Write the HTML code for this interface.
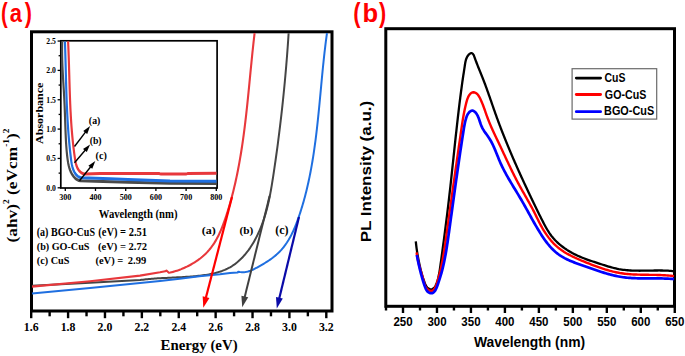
<!DOCTYPE html>
<html><head><meta charset="utf-8"><title>Figure</title>
<style>html,body{margin:0;padding:0;background:#fff;overflow:hidden;} svg{display:block;}</style>
</head><body>
<svg width="685" height="356" viewBox="0 0 685 356"><rect width="685" height="356" fill="#fff"/><g><rect width="685" height="356" fill="#fff"/><text transform="translate(0.99,21.73) scale(0.7269,1)" font-family='"Liberation Sans", sans-serif' font-weight="bold" font-size="27.786" fill="#ff0000" >(</text>
<text transform="translate(9.76,22.25) scale(0.8466,1)" font-family='"Liberation Sans", sans-serif' font-weight="bold" font-size="25.919" fill="#ff0000" >a</text>
<text transform="translate(24.78,21.73) scale(0.7779,1)" font-family='"Liberation Sans", sans-serif' font-weight="bold" font-size="27.786" fill="#ff0000" >)</text>
<text transform="translate(353.21,21.81) scale(0.7876,1)" font-family='"Liberation Sans", sans-serif' font-weight="bold" font-size="27.893" fill="#ff0000" >(</text>
<text transform="translate(362.51,21.94) scale(0.9792,1)" font-family='"Liberation Sans", sans-serif' font-weight="bold" font-size="26.145" fill="#ff0000" >b</text>
<text transform="translate(379.08,21.81) scale(0.7749,1)" font-family='"Liberation Sans", sans-serif' font-weight="bold" font-size="27.893" fill="#ff0000" >)</text>
<rect x="31.50" y="31.80" width="300.50" height="279.20" fill="none" stroke="#000" stroke-width="3"/>
<line x1="31.20" y1="311.00" x2="31.20" y2="318.20" stroke="#000" stroke-width="2.4" stroke-linecap="butt"/>
<line x1="49.64" y1="311.00" x2="49.64" y2="316.30" stroke="#000" stroke-width="2.4" stroke-linecap="butt"/>
<line x1="68.09" y1="311.00" x2="68.09" y2="318.20" stroke="#000" stroke-width="2.4" stroke-linecap="butt"/>
<line x1="86.53" y1="311.00" x2="86.53" y2="316.30" stroke="#000" stroke-width="2.4" stroke-linecap="butt"/>
<line x1="104.97" y1="311.00" x2="104.97" y2="318.20" stroke="#000" stroke-width="2.4" stroke-linecap="butt"/>
<line x1="123.42" y1="311.00" x2="123.42" y2="316.30" stroke="#000" stroke-width="2.4" stroke-linecap="butt"/>
<line x1="141.86" y1="311.00" x2="141.86" y2="318.20" stroke="#000" stroke-width="2.4" stroke-linecap="butt"/>
<line x1="160.31" y1="311.00" x2="160.31" y2="316.30" stroke="#000" stroke-width="2.4" stroke-linecap="butt"/>
<line x1="178.75" y1="311.00" x2="178.75" y2="318.20" stroke="#000" stroke-width="2.4" stroke-linecap="butt"/>
<line x1="197.19" y1="311.00" x2="197.19" y2="316.30" stroke="#000" stroke-width="2.4" stroke-linecap="butt"/>
<line x1="215.64" y1="311.00" x2="215.64" y2="318.20" stroke="#000" stroke-width="2.4" stroke-linecap="butt"/>
<line x1="234.08" y1="311.00" x2="234.08" y2="316.30" stroke="#000" stroke-width="2.4" stroke-linecap="butt"/>
<line x1="252.53" y1="311.00" x2="252.53" y2="318.20" stroke="#000" stroke-width="2.4" stroke-linecap="butt"/>
<line x1="270.97" y1="311.00" x2="270.97" y2="316.30" stroke="#000" stroke-width="2.4" stroke-linecap="butt"/>
<line x1="289.41" y1="311.00" x2="289.41" y2="318.20" stroke="#000" stroke-width="2.4" stroke-linecap="butt"/>
<line x1="307.86" y1="311.00" x2="307.86" y2="316.30" stroke="#000" stroke-width="2.4" stroke-linecap="butt"/>
<line x1="326.30" y1="311.00" x2="326.30" y2="318.20" stroke="#000" stroke-width="2.4" stroke-linecap="butt"/>
<text transform="translate(31.20,330.90) scale(1.0000,1)" text-anchor="middle" font-family='"Liberation Serif", serif' font-weight="bold" font-size="11.8" fill="#000" >1.6</text>
<text transform="translate(68.09,330.90) scale(1.0000,1)" text-anchor="middle" font-family='"Liberation Serif", serif' font-weight="bold" font-size="11.8" fill="#000" >1.8</text>
<text transform="translate(104.97,330.90) scale(1.0000,1)" text-anchor="middle" font-family='"Liberation Serif", serif' font-weight="bold" font-size="11.8" fill="#000" >2.0</text>
<text transform="translate(141.86,330.90) scale(1.0000,1)" text-anchor="middle" font-family='"Liberation Serif", serif' font-weight="bold" font-size="11.8" fill="#000" >2.2</text>
<text transform="translate(178.75,330.90) scale(1.0000,1)" text-anchor="middle" font-family='"Liberation Serif", serif' font-weight="bold" font-size="11.8" fill="#000" >2.4</text>
<text transform="translate(215.64,330.90) scale(1.0000,1)" text-anchor="middle" font-family='"Liberation Serif", serif' font-weight="bold" font-size="11.8" fill="#000" >2.6</text>
<text transform="translate(252.53,330.90) scale(1.0000,1)" text-anchor="middle" font-family='"Liberation Serif", serif' font-weight="bold" font-size="11.8" fill="#000" >2.8</text>
<text transform="translate(289.41,330.90) scale(1.0000,1)" text-anchor="middle" font-family='"Liberation Serif", serif' font-weight="bold" font-size="11.8" fill="#000" >3.0</text>
<text transform="translate(326.30,330.90) scale(1.0000,1)" text-anchor="middle" font-family='"Liberation Serif", serif' font-weight="bold" font-size="11.8" fill="#000" >3.2</text>
<text transform="translate(160.55,349.97) scale(0.9840,1)" font-family='"Liberation Serif", serif' font-weight="bold" font-size="15.089" fill="#000" >Energy (eV)</text>
<text transform="translate(17.4,242.5) rotate(-90) scale(1.205,1)" font-family='"Liberation Serif", serif' font-weight="bold" font-size="14.4" fill="#000">(ahv)<tspan font-size="7.8" dy="-8.6">2</tspan><tspan dy="8.6"> (eVcm</tspan><tspan font-size="7.8" dy="-8.6">-1</tspan><tspan dy="8.6">)</tspan><tspan font-size="7.8" dy="-8.6">2</tspan></text>
<rect x="60.80" y="40.80" width="156.30" height="147.20" fill="none" stroke="#000" stroke-width="1.7"/>
<line x1="60.80" y1="187.80" x2="57.60" y2="187.80" stroke="#000" stroke-width="1.3" stroke-linecap="butt"/>
<line x1="60.80" y1="173.12" x2="58.60" y2="173.12" stroke="#000" stroke-width="1.3" stroke-linecap="butt"/>
<line x1="60.80" y1="158.45" x2="57.60" y2="158.45" stroke="#000" stroke-width="1.3" stroke-linecap="butt"/>
<line x1="60.80" y1="143.78" x2="58.60" y2="143.78" stroke="#000" stroke-width="1.3" stroke-linecap="butt"/>
<line x1="60.80" y1="129.10" x2="57.60" y2="129.10" stroke="#000" stroke-width="1.3" stroke-linecap="butt"/>
<line x1="60.80" y1="114.43" x2="58.60" y2="114.43" stroke="#000" stroke-width="1.3" stroke-linecap="butt"/>
<line x1="60.80" y1="99.75" x2="57.60" y2="99.75" stroke="#000" stroke-width="1.3" stroke-linecap="butt"/>
<line x1="60.80" y1="85.08" x2="58.60" y2="85.08" stroke="#000" stroke-width="1.3" stroke-linecap="butt"/>
<line x1="60.80" y1="70.40" x2="57.60" y2="70.40" stroke="#000" stroke-width="1.3" stroke-linecap="butt"/>
<line x1="60.80" y1="55.72" x2="58.60" y2="55.72" stroke="#000" stroke-width="1.3" stroke-linecap="butt"/>
<line x1="60.80" y1="41.05" x2="57.60" y2="41.05" stroke="#000" stroke-width="1.3" stroke-linecap="butt"/>
<line x1="65.30" y1="188.00" x2="65.30" y2="191.00" stroke="#000" stroke-width="1.3" stroke-linecap="butt"/>
<line x1="95.50" y1="188.00" x2="95.50" y2="191.00" stroke="#000" stroke-width="1.3" stroke-linecap="butt"/>
<line x1="125.70" y1="188.00" x2="125.70" y2="191.00" stroke="#000" stroke-width="1.3" stroke-linecap="butt"/>
<line x1="155.90" y1="188.00" x2="155.90" y2="191.00" stroke="#000" stroke-width="1.3" stroke-linecap="butt"/>
<line x1="186.10" y1="188.00" x2="186.10" y2="191.00" stroke="#000" stroke-width="1.3" stroke-linecap="butt"/>
<line x1="216.30" y1="188.00" x2="216.30" y2="191.00" stroke="#000" stroke-width="1.3" stroke-linecap="butt"/>
<text transform="translate(55.90,190.70) scale(0.8800,1)" text-anchor="end" font-family='"Liberation Serif", serif' font-weight="bold" font-size="8.7" fill="#000" >0.0</text>
<text transform="translate(55.90,161.35) scale(0.8800,1)" text-anchor="end" font-family='"Liberation Serif", serif' font-weight="bold" font-size="8.7" fill="#000" >0.5</text>
<text transform="translate(55.90,132.00) scale(0.8800,1)" text-anchor="end" font-family='"Liberation Serif", serif' font-weight="bold" font-size="8.7" fill="#000" >1.0</text>
<text transform="translate(55.90,102.65) scale(0.8800,1)" text-anchor="end" font-family='"Liberation Serif", serif' font-weight="bold" font-size="8.7" fill="#000" >1.5</text>
<text transform="translate(55.90,73.30) scale(0.8800,1)" text-anchor="end" font-family='"Liberation Serif", serif' font-weight="bold" font-size="8.7" fill="#000" >2.0</text>
<text transform="translate(55.90,43.95) scale(0.8800,1)" text-anchor="end" font-family='"Liberation Serif", serif' font-weight="bold" font-size="8.7" fill="#000" >2.5</text>
<text transform="translate(65.30,199.70) scale(0.8800,1)" text-anchor="middle" font-family='"Liberation Serif", serif' font-weight="bold" font-size="9.2" fill="#000" >300</text>
<text transform="translate(95.50,199.70) scale(0.8800,1)" text-anchor="middle" font-family='"Liberation Serif", serif' font-weight="bold" font-size="9.2" fill="#000" >400</text>
<text transform="translate(125.70,199.70) scale(0.8800,1)" text-anchor="middle" font-family='"Liberation Serif", serif' font-weight="bold" font-size="9.2" fill="#000" >500</text>
<text transform="translate(155.90,199.70) scale(0.8800,1)" text-anchor="middle" font-family='"Liberation Serif", serif' font-weight="bold" font-size="9.2" fill="#000" >600</text>
<text transform="translate(186.10,199.70) scale(0.8800,1)" text-anchor="middle" font-family='"Liberation Serif", serif' font-weight="bold" font-size="9.2" fill="#000" >700</text>
<text transform="translate(216.30,199.70) scale(0.8800,1)" text-anchor="middle" font-family='"Liberation Serif", serif' font-weight="bold" font-size="9.2" fill="#000" >800</text>
<text transform="translate(98.85,217.57) scale(0.9316,1)" font-family='"Liberation Serif", serif' font-weight="bold" font-size="11.481" fill="#000" >Wavelength (nm)</text>
<text transform="translate(43.10,143.92) rotate(-90) scale(1.1890,1)" font-family='"Liberation Serif", serif' font-weight="bold" font-size="10.091" fill="#000" >Absorbance</text>
<path transform="translate(100.0,0) scale(0.72,1) translate(-100.0,0)" d="M47.50,41.47 L47.43,42.98 L47.38,44.49 L47.34,46.00 L47.32,47.50 L47.31,49.01 L47.30,50.51 L47.31,52.01 L47.33,53.52 L47.36,55.02 L47.39,56.51 L47.44,58.01 L47.49,59.51 L47.56,61.00 L47.63,62.50 L47.70,63.99 L47.79,65.48 L47.88,66.97 L47.97,68.46 L48.07,69.95 L48.18,71.44 L48.29,72.93 L48.40,74.41 L48.51,75.90 L48.63,77.38 L48.76,78.87 L48.88,80.35 L49.00,81.84 L49.13,83.32 L49.26,84.80 L49.38,86.29 L49.51,87.77 L49.63,89.25 L49.76,90.73 L49.88,92.21 L50.00,93.70 L50.12,95.18 L50.23,96.66 L50.34,98.14 L50.45,99.62 L50.55,101.10 L50.65,102.59 L50.74,104.07 L50.83,105.55 L50.92,107.03 L51.00,108.52 L51.08,110.00 L51.16,111.48 L51.24,112.97 L51.31,114.45 L51.38,115.94 L51.46,117.43 L51.53,118.91 L51.60,120.40 L51.67,121.89 L51.74,123.38 L51.81,124.87 L51.89,126.36 L51.96,127.85 L52.03,129.35 L52.11,130.84 L52.19,132.34 L52.27,133.83 L52.36,135.33 L52.45,136.83 L52.55,138.33 L52.65,139.83 L52.76,141.33 L52.88,142.84 L53.01,144.34 L53.15,145.85 L53.30,147.36 L53.46,148.87 L53.64,150.39 L53.83,151.90 L54.03,153.42 L54.25,154.93 L54.49,156.45 L54.75,157.98 L55.03,159.50 L55.34,161.01 L55.68,162.52 L56.08,164.01 L56.52,165.49 L57.02,166.94 L57.60,168.36 L58.25,169.75 L58.98,171.10 L59.80,172.41 L60.72,173.68 L61.75,174.89 L62.89,176.05 L64.15,177.14 L65.54,178.17 L67.07,179.12 L68.74,179.90 L70.56,180.46 L72.55,180.74 L93.06,181.20 L138.89,182.30 L197.22,183.20 L261.81,183.60" fill="none" stroke="#4a4a4a" stroke-width="3.0" stroke-linejoin="round" stroke-linecap="butt" />
<path transform="translate(100.0,0) scale(0.72,1) translate(-100.0,0)" d="M51.27,41.47 L51.35,42.97 L51.42,44.48 L51.49,45.98 L51.56,47.49 L51.63,48.99 L51.70,50.49 L51.76,51.98 L51.82,53.48 L51.88,54.98 L51.94,56.47 L52.00,57.97 L52.06,59.46 L52.11,60.95 L52.17,62.44 L52.22,63.93 L52.28,65.42 L52.33,66.90 L52.38,68.39 L52.44,69.87 L52.49,71.36 L52.54,72.84 L52.60,74.33 L52.65,75.81 L52.70,77.29 L52.76,78.77 L52.81,80.25 L52.87,81.73 L52.93,83.21 L52.98,84.69 L53.04,86.17 L53.10,87.65 L53.16,89.13 L53.23,90.61 L53.29,92.08 L53.36,93.56 L53.43,95.04 L53.50,96.52 L53.57,98.00 L53.64,99.47 L53.72,100.95 L53.80,102.43 L53.88,103.91 L53.96,105.39 L54.05,106.87 L54.14,108.35 L54.23,109.83 L54.33,111.31 L54.43,112.79 L54.53,114.27 L54.63,115.75 L54.74,117.23 L54.86,118.71 L54.97,120.20 L55.09,121.68 L55.22,123.16 L55.35,124.65 L55.48,126.14 L55.62,127.62 L55.76,129.11 L55.91,130.60 L56.06,132.09 L56.22,133.58 L56.38,135.07 L56.55,136.57 L56.72,138.06 L56.90,139.56 L57.08,141.06 L57.27,142.55 L57.47,144.05 L57.67,145.56 L57.87,147.06 L58.08,148.56 L58.30,150.07 L58.53,151.58 L58.76,153.09 L59.00,154.60 L59.24,156.11 L59.49,157.62 L59.75,159.14 L60.03,160.65 L60.33,162.16 L60.67,163.65 L61.06,165.12 L61.52,166.56 L62.06,167.97 L62.69,169.33 L63.43,170.66 L64.28,171.92 L65.26,173.13 L66.38,174.27 L67.66,175.33 L69.11,176.26 L70.73,177.02 L72.56,177.56 L74.58,177.84 L113.89,178.80 L138.89,179.40 L197.22,181.00 L261.81,181.30" fill="none" stroke="#1f6fe0" stroke-width="3.0" stroke-linejoin="round" stroke-linecap="butt" />
<path transform="translate(100.0,0) scale(0.72,1) translate(-100.0,0)" d="M55.68,41.46 L55.78,42.97 L55.87,44.48 L55.97,45.98 L56.06,47.49 L56.14,48.99 L56.23,50.49 L56.31,51.99 L56.38,53.49 L56.46,54.98 L56.53,56.48 L56.60,57.97 L56.67,59.46 L56.74,60.95 L56.80,62.44 L56.87,63.93 L56.93,65.42 L56.99,66.90 L57.05,68.39 L57.11,69.87 L57.17,71.35 L57.23,72.84 L57.29,74.32 L57.35,75.80 L57.40,77.28 L57.46,78.76 L57.52,80.24 L57.58,81.71 L57.64,83.19 L57.70,84.67 L57.76,86.15 L57.82,87.62 L57.89,89.10 L57.95,90.57 L58.02,92.05 L58.09,93.52 L58.16,95.00 L58.23,96.48 L58.31,97.95 L58.38,99.43 L58.46,100.90 L58.55,102.38 L58.63,103.85 L58.72,105.33 L58.81,106.81 L58.91,108.28 L59.01,109.76 L59.11,111.24 L59.22,112.72 L59.33,114.20 L59.44,115.68 L59.56,117.16 L59.68,118.64 L59.81,120.12 L59.94,121.60 L60.08,123.09 L60.23,124.57 L60.37,126.06 L60.53,127.54 L60.69,129.03 L60.85,130.52 L61.03,132.01 L61.20,133.50 L61.39,134.99 L61.58,136.49 L61.78,137.98 L61.98,139.48 L62.19,140.98 L62.41,142.48 L62.63,143.98 L62.87,145.48 L63.11,146.99 L63.36,148.49 L63.61,150.00 L63.88,151.51 L64.15,153.02 L64.43,154.54 L64.72,156.06 L65.02,157.57 L65.33,159.09 L65.67,160.60 L66.06,162.08 L66.51,163.54 L67.04,164.95 L67.66,166.32 L68.39,167.62 L69.25,168.85 L70.26,169.99 L71.43,171.05 L72.78,172.00 L74.32,172.83 L76.07,173.49 L78.04,173.91 L80.27,174.03 L100.00,173.60 L141.67,173.50 L181.94,173.50 L184.72,174.10 L219.44,174.10 L222.22,173.40 L261.81,173.30" fill="none" stroke="#e8383c" stroke-width="3.0" stroke-linejoin="round" stroke-linecap="butt" />
<line x1="74.50" y1="146.50" x2="85.85" y2="131.66" stroke="#000" stroke-width="1.4" stroke-linecap="butt"/>
<polygon points="90.10,126.10 87.23,133.97 83.25,130.94" fill="#000"/>
<line x1="74.50" y1="162.80" x2="85.57" y2="149.74" stroke="#000" stroke-width="1.4" stroke-linecap="butt"/>
<polygon points="90.10,144.40 86.83,152.12 83.02,148.89" fill="#000"/>
<line x1="79.50" y1="180.80" x2="90.93" y2="166.47" stroke="#000" stroke-width="1.4" stroke-linecap="butt"/>
<polygon points="95.30,161.00 92.26,168.81 88.36,165.69" fill="#000"/>
<text transform="translate(88.87,124.30) scale(1.0488,1)" font-family='"Liberation Serif", serif' font-weight="bold" font-size="9.374" fill="#000" >(a)</text>
<text transform="translate(89.67,143.70) scale(1.0439,1)" font-family='"Liberation Serif", serif' font-weight="bold" font-size="9.374" fill="#000" >(b)</text>
<text transform="translate(95.55,159.30) scale(1.0856,1)" font-family='"Liberation Serif", serif' font-weight="bold" font-size="9.374" fill="#000" >(c)</text>
<path d="M32.00,285.80 L90.00,282.70 L140.15,280.04 L141.59,279.85 L143.03,279.67 L144.48,279.50 L145.92,279.34 L147.38,279.19 L148.83,279.05 L150.30,278.92 L151.76,278.80 L153.23,278.68 L154.70,278.57 L156.17,278.47 L157.65,278.37 L159.13,278.28 L160.61,278.19 L162.10,278.11 L163.59,278.03 L165.08,277.95 L166.57,277.88 L168.07,277.80 L169.57,277.73 L171.07,277.66 L172.57,277.59 L174.08,277.52 L175.59,277.44 L177.10,277.37 L178.61,277.29 L180.12,277.21 L181.64,277.13 L183.16,277.04 L184.68,276.95 L186.20,276.86 L187.72,276.76 L189.24,276.65 L190.77,276.54 L192.29,276.41 L193.82,276.29 L195.34,276.15 L196.87,276.00 L198.40,275.85 L199.93,275.68 L201.45,275.50 L202.98,275.30 L204.50,275.09 L206.01,274.87 L207.52,274.63 L209.02,274.36 L210.51,274.08 L211.99,273.78 L213.47,273.45 L214.93,273.10 L216.38,272.72 L217.82,272.32 L219.24,271.89 L220.65,271.43 L222.05,270.94 L223.43,270.41 L224.78,269.86 L226.12,269.27 L227.45,268.64 L228.75,267.98 L230.02,267.28 L231.28,266.54 L232.51,265.76 L233.72,264.95 L234.91,264.10 L236.07,263.21 L237.22,262.29 L238.34,261.34 L239.43,260.36 L240.51,259.34 L241.57,258.30 L242.60,257.23 L243.61,256.13 L244.60,255.01 L245.57,253.87 L246.52,252.70 L247.44,251.51 L248.35,250.30 L249.23,249.07 L250.10,247.83 L250.94,246.57 L251.77,245.29 L252.57,244.00 L253.35,242.69 L254.11,241.38 L254.86,240.05 L255.58,238.71 L256.28,237.37 L256.97,236.02 L257.63,234.66 L258.28,233.30 L258.90,231.94 L259.51,230.57 L260.10,229.20 L260.67,227.82 L261.23,226.44 L261.77,225.06 L262.29,223.68 L262.79,222.29 L263.28,220.89 L263.76,219.50 L264.22,218.10 L264.67,216.70 L265.10,215.29 L265.52,213.88 L265.92,212.47 L266.32,211.06 L266.70,209.64 L267.07,208.22 L267.43,206.79 L267.78,205.37 L268.12,203.94 L268.45,202.51 L268.77,201.07 L269.08,199.63 L269.38,198.19 L269.67,196.75 L269.96,195.30 L270.24,193.86 L270.51,192.41 L270.78,190.95 L271.04,189.50 L271.29,188.04 L271.54,186.58 L271.79,185.12 L272.03,183.66 L272.27,182.19 L272.50,180.72 L272.73,179.25 L272.96,177.78 L273.19,176.31 L273.41,174.83 L273.64,173.36 L273.86,171.88 L274.08,170.40 L274.30,168.91 L274.52,167.43 L274.74,165.94 L274.96,164.46 L275.17,162.97 L275.39,161.48 L275.60,159.99 L275.81,158.49 L276.02,157.00 L276.23,155.51 L276.44,154.01 L276.65,152.51 L276.85,151.01 L277.06,149.51 L277.26,148.01 L277.46,146.51 L277.66,145.01 L277.86,143.51 L278.05,142.00 L278.25,140.50 L278.44,138.99 L278.64,137.49 L278.83,135.98 L279.02,134.47 L279.21,132.96 L279.40,131.46 L279.58,129.95 L279.77,128.44 L279.95,126.93 L280.13,125.42 L280.31,123.91 L280.49,122.40 L280.67,120.89 L280.85,119.38 L281.02,117.87 L281.20,116.36 L281.37,114.85 L281.54,113.34 L281.71,111.83 L281.88,110.32 L282.05,108.81 L282.21,107.30 L282.38,105.79 L282.54,104.28 L282.70,102.78 L282.86,101.27 L283.02,99.76 L283.18,98.26 L283.33,96.75 L283.49,95.25 L283.64,93.74 L283.79,92.24 L283.94,90.74 L284.09,89.23 L284.23,87.73 L284.38,86.23 L284.52,84.74 L284.67,83.24 L284.81,81.74 L284.95,80.25 L285.08,78.75 L285.22,77.26 L285.36,75.77 L285.49,74.28 L285.62,72.79 L285.75,71.30 L285.88,69.82 L286.01,68.33 L286.14,66.85 L286.26,65.37 L286.38,63.89 L286.51,62.41 L286.63,60.94 L286.74,59.46 L286.86,57.99 L286.98,56.52 L287.09,55.05 L287.20,53.59 L287.31,52.12 L287.42,50.66 L287.53,49.20 L287.64,47.75 L287.74,46.29 L287.85,44.84 L287.95,43.39 L288.05,41.94 L288.15,40.49 L288.24,39.05 L288.34,37.61 L288.43,36.17 L288.52,34.74 L288.61,33.31" fill="none" stroke="#454545" stroke-width="2.0" stroke-linejoin="round" stroke-linecap="butt"/>
<path d="M32.00,286.60 L90.00,281.20 L140.00,275.60 L160.00,272.30 L165.20,271.30 L166.40,270.50 L168.90,272.80 L170.22,272.53 L171.55,272.22 L172.90,271.88 L174.27,271.50 L175.64,271.09 L177.03,270.65 L178.43,270.18 L179.83,269.67 L181.24,269.13 L182.64,268.55 L184.05,267.95 L185.45,267.32 L186.86,266.66 L188.25,265.96 L189.64,265.24 L191.01,264.49 L192.37,263.71 L193.72,262.91 L195.05,262.07 L196.36,261.22 L197.65,260.33 L198.92,259.42 L200.16,258.49 L201.38,257.53 L202.56,256.54 L203.71,255.53 L204.83,254.50 L205.92,253.45 L206.97,252.38 L207.98,251.28 L208.96,250.17 L209.91,249.03 L210.83,247.88 L211.72,246.70 L212.57,245.51 L213.40,244.30 L214.21,243.08 L214.98,241.84 L215.73,240.59 L216.46,239.32 L217.16,238.03 L217.84,236.74 L218.50,235.43 L219.14,234.11 L219.76,232.78 L220.37,231.44 L220.95,230.09 L221.52,228.73 L222.08,227.37 L222.62,225.99 L223.14,224.61 L223.66,223.22 L224.16,221.83 L224.66,220.43 L225.14,219.03 L225.62,217.63 L226.09,216.22 L226.56,214.81 L227.01,213.40 L227.46,211.98 L227.91,210.57 L228.35,209.14 L228.78,207.72 L229.20,206.30 L229.62,204.87 L230.03,203.44 L230.44,202.01 L230.84,200.58 L231.23,199.14 L231.62,197.70 L232.01,196.26 L232.38,194.82 L232.75,193.37 L233.12,191.93 L233.48,190.48 L233.83,189.03 L234.18,187.57 L234.53,186.12 L234.87,184.66 L235.20,183.21 L235.53,181.75 L235.85,180.29 L236.17,178.82 L236.48,177.36 L236.79,175.89 L237.09,174.42 L237.39,172.95 L237.69,171.48 L237.98,170.01 L238.26,168.54 L238.54,167.06 L238.82,165.59 L239.09,164.11 L239.36,162.63 L239.62,161.15 L239.88,159.67 L240.14,158.18 L240.39,156.70 L240.64,155.22 L240.88,153.73 L241.13,152.24 L241.36,150.75 L241.60,149.27 L241.83,147.78 L242.05,146.28 L242.27,144.79 L242.49,143.30 L242.71,141.81 L242.92,140.31 L243.13,138.82 L243.34,137.32 L243.55,135.83 L243.75,134.33 L243.95,132.84 L244.14,131.34 L244.34,129.84 L244.53,128.34 L244.72,126.84 L244.90,125.34 L245.08,123.84 L245.27,122.34 L245.44,120.84 L245.62,119.34 L245.80,117.84 L245.97,116.34 L246.14,114.84 L246.31,113.34 L246.47,111.84 L246.64,110.34 L246.80,108.84 L246.97,107.34 L247.13,105.84 L247.29,104.34 L247.44,102.84 L247.60,101.34 L247.75,99.84 L247.91,98.34 L248.06,96.84 L248.21,95.34 L248.36,93.85 L248.51,92.35 L248.66,90.85 L248.81,89.35 L248.96,87.86 L249.11,86.36 L249.25,84.87 L249.40,83.37 L249.54,81.88 L249.69,80.39 L249.83,78.90 L249.98,77.40 L250.12,75.91 L250.27,74.43 L250.41,72.94 L250.56,71.45 L250.70,69.96 L250.85,68.48 L251.00,66.99 L251.14,65.51 L251.29,64.03 L251.43,62.55 L251.58,61.07 L251.73,59.59 L251.88,58.11 L252.03,56.64 L252.18,55.16 L252.33,53.69 L252.48,52.22 L252.64,50.75 L252.79,49.28 L252.95,47.81 L253.11,46.35 L253.27,44.88 L253.43,43.42 L253.59,41.96 L253.75,40.50 L253.92,39.04 L254.08,37.59 L254.25,36.14 L254.42,34.69 L254.59,33.24" fill="none" stroke="#e8383c" stroke-width="2.1" stroke-linejoin="round" stroke-linecap="butt"/>
<path d="M32.00,293.60 L90.00,288.00 L140.00,283.10 L160.00,281.00 L179.70,278.80 L199.30,276.30 L220.00,274.30 L230.00,273.10 L237.60,272.60 L238.29,271.65 L239.78,271.95 L241.23,272.13 L242.65,272.19 L244.04,272.14 L245.40,271.99 L246.74,271.76 L248.06,271.44 L249.37,271.04 L250.66,270.58 L251.94,270.07 L253.22,269.50 L254.49,268.89 L255.76,268.23 L257.04,267.55 L258.33,266.84 L259.63,266.10 L260.94,265.35 L262.25,264.59 L263.58,263.80 L264.90,263.00 L266.23,262.18 L267.54,261.34 L268.85,260.48 L270.14,259.60 L271.42,258.70 L272.67,257.78 L273.90,256.83 L275.10,255.86 L276.27,254.87 L277.40,253.85 L278.49,252.81 L279.56,251.75 L280.59,250.66 L281.58,249.56 L282.55,248.43 L283.48,247.28 L284.39,246.11 L285.27,244.93 L286.11,243.73 L286.94,242.51 L287.73,241.27 L288.51,240.02 L289.26,238.75 L289.98,237.47 L290.68,236.18 L291.37,234.87 L292.03,233.55 L292.67,232.22 L293.29,230.88 L293.90,229.53 L294.49,228.17 L295.07,226.80 L295.62,225.43 L296.17,224.04 L296.70,222.66 L297.22,221.26 L297.73,219.86 L298.23,218.46 L298.72,217.06 L299.21,215.65 L299.68,214.24 L300.15,212.82 L300.61,211.41 L301.06,209.99 L301.50,208.57 L301.94,207.15 L302.36,205.73 L302.79,204.30 L303.20,202.87 L303.61,201.44 L304.01,200.01 L304.40,198.58 L304.79,197.14 L305.17,195.71 L305.54,194.27 L305.91,192.83 L306.27,191.39 L306.62,189.94 L306.97,188.50 L307.31,187.05 L307.65,185.60 L307.97,184.15 L308.30,182.70 L308.62,181.24 L308.93,179.79 L309.23,178.33 L309.54,176.87 L309.83,175.41 L310.12,173.95 L310.41,172.49 L310.69,171.02 L310.96,169.56 L311.23,168.09 L311.50,166.62 L311.76,165.16 L312.01,163.69 L312.26,162.21 L312.51,160.74 L312.75,159.27 L312.99,157.79 L313.22,156.32 L313.45,154.84 L313.68,153.36 L313.90,151.88 L314.11,150.41 L314.33,148.92 L314.54,147.44 L314.74,145.96 L314.95,144.48 L315.15,142.99 L315.34,141.51 L315.54,140.03 L315.73,138.54 L315.91,137.05 L316.10,135.57 L316.28,134.08 L316.46,132.59 L316.63,131.10 L316.81,129.61 L316.98,128.12 L317.14,126.63 L317.31,125.14 L317.47,123.65 L317.64,122.16 L317.80,120.67 L317.95,119.18 L318.11,117.68 L318.26,116.19 L318.42,114.70 L318.57,113.21 L318.72,111.71 L318.87,110.22 L319.01,108.73 L319.16,107.23 L319.30,105.74 L319.45,104.25 L319.59,102.75 L319.73,101.26 L319.87,99.77 L320.01,98.27 L320.15,96.78 L320.29,95.29 L320.43,93.80 L320.57,92.30 L320.71,90.81 L320.85,89.32 L320.99,87.83 L321.13,86.34 L321.26,84.85 L321.40,83.36 L321.54,81.87 L321.68,80.38 L321.83,78.89 L321.97,77.40 L322.11,75.92 L322.25,74.43 L322.40,72.94 L322.54,71.46 L322.69,69.97 L322.83,68.49 L322.98,67.01 L323.13,65.52 L323.28,64.04 L323.44,62.56 L323.59,61.08 L323.75,59.60 L323.91,58.13 L324.07,56.65 L324.23,55.17 L324.40,53.70 L324.56,52.22 L324.73,50.75 L324.90,49.28 L325.08,47.81 L325.25,46.34 L325.43,44.87 L325.61,43.40 L325.80,41.94 L325.99,40.47 L326.18,39.01 L326.37,37.55 L326.57,36.09 L326.77,34.63 L326.98,33.17" fill="none" stroke="#1f6fe0" stroke-width="2.0" stroke-linejoin="round" stroke-linecap="butt"/>
<line x1="232.00" y1="197.00" x2="205.81" y2="298.02" stroke="#ff0000" stroke-width="2.2" stroke-linecap="butt"/>
<polygon points="203.30,307.70 202.67,296.17 209.45,297.93" fill="#ff0000"/>
<line x1="269.60" y1="196.00" x2="244.59" y2="297.49" stroke="#404040" stroke-width="2.0" stroke-linecap="butt"/>
<polygon points="242.20,307.20 241.43,295.68 248.23,297.36" fill="#404040"/>
<line x1="299.00" y1="217.00" x2="279.16" y2="298.68" stroke="#0a0aa8" stroke-width="2.2" stroke-linecap="butt"/>
<polygon points="276.80,308.40 276.00,296.88 282.80,298.54" fill="#0a0aa8"/>
<text transform="translate(201.67,234.31) scale(1.0719,1)" font-family='"Liberation Serif", serif' font-weight="bold" font-size="11.249" fill="#000" >(a)</text>
<text transform="translate(239.40,234.31) scale(1.0032,1)" font-family='"Liberation Serif", serif' font-weight="bold" font-size="11.249" fill="#000" >(b)</text>
<text transform="translate(275.27,233.96) scale(1.0493,1)" font-family='"Liberation Serif", serif' font-weight="bold" font-size="11.470" fill="#000" >(c)</text>
<text transform="translate(36.76,235.73) scale(0.8666,1)" font-family='"Liberation Serif", serif' font-weight="bold" font-size="11.580" fill="#000" >(a) BGO-CuS</text>
<text transform="translate(98.24,235.73) scale(0.9079,1)" font-family='"Liberation Serif", serif' font-weight="bold" font-size="11.580" fill="#000" >(eV) = 2.51</text>
<text transform="translate(36.75,250.01) scale(0.9031,1)" font-family='"Liberation Serif", serif' font-weight="bold" font-size="11.249" fill="#000" >(b) GO-CuS</text>
<text transform="translate(97.94,250.01) scale(0.9386,1)" font-family='"Liberation Serif", serif' font-weight="bold" font-size="11.249" fill="#000" >(eV) = 2.72</text>
<text transform="translate(36.75,264.42) scale(0.9565,1)" font-family='"Liberation Serif", serif' font-weight="bold" font-size="10.698" fill="#000" >(c) CuS</text>
<text transform="translate(95.44,264.42) scale(0.9814,1)" font-family='"Liberation Serif", serif' font-weight="bold" font-size="10.698" fill="#000" >(eV) =</text>
<text transform="translate(127.76,264.37) scale(1.1364,1)" font-family='"Liberation Serif", serif' font-weight="bold" font-size="9.316" fill="#000" >2.99</text>
<rect x="385.80" y="28.70" width="288.70" height="277.60" fill="none" stroke="#000" stroke-width="3"/>
<line x1="386.01" y1="306.30" x2="386.01" y2="310.50" stroke="#000" stroke-width="2.4" stroke-linecap="butt"/>
<line x1="403.00" y1="306.30" x2="403.00" y2="313.00" stroke="#000" stroke-width="2.4" stroke-linecap="butt"/>
<line x1="419.99" y1="306.30" x2="419.99" y2="310.50" stroke="#000" stroke-width="2.4" stroke-linecap="butt"/>
<line x1="436.97" y1="306.30" x2="436.97" y2="313.00" stroke="#000" stroke-width="2.4" stroke-linecap="butt"/>
<line x1="453.95" y1="306.30" x2="453.95" y2="310.50" stroke="#000" stroke-width="2.4" stroke-linecap="butt"/>
<line x1="470.94" y1="306.30" x2="470.94" y2="313.00" stroke="#000" stroke-width="2.4" stroke-linecap="butt"/>
<line x1="487.93" y1="306.30" x2="487.93" y2="310.50" stroke="#000" stroke-width="2.4" stroke-linecap="butt"/>
<line x1="504.91" y1="306.30" x2="504.91" y2="313.00" stroke="#000" stroke-width="2.4" stroke-linecap="butt"/>
<line x1="521.89" y1="306.30" x2="521.89" y2="310.50" stroke="#000" stroke-width="2.4" stroke-linecap="butt"/>
<line x1="538.88" y1="306.30" x2="538.88" y2="313.00" stroke="#000" stroke-width="2.4" stroke-linecap="butt"/>
<line x1="555.87" y1="306.30" x2="555.87" y2="310.50" stroke="#000" stroke-width="2.4" stroke-linecap="butt"/>
<line x1="572.85" y1="306.30" x2="572.85" y2="313.00" stroke="#000" stroke-width="2.4" stroke-linecap="butt"/>
<line x1="589.84" y1="306.30" x2="589.84" y2="310.50" stroke="#000" stroke-width="2.4" stroke-linecap="butt"/>
<line x1="606.82" y1="306.30" x2="606.82" y2="313.00" stroke="#000" stroke-width="2.4" stroke-linecap="butt"/>
<line x1="623.81" y1="306.30" x2="623.81" y2="310.50" stroke="#000" stroke-width="2.4" stroke-linecap="butt"/>
<line x1="640.79" y1="306.30" x2="640.79" y2="313.00" stroke="#000" stroke-width="2.4" stroke-linecap="butt"/>
<line x1="657.77" y1="306.30" x2="657.77" y2="310.50" stroke="#000" stroke-width="2.4" stroke-linecap="butt"/>
<line x1="674.76" y1="306.30" x2="674.76" y2="313.00" stroke="#000" stroke-width="2.4" stroke-linecap="butt"/>
<text transform="translate(403.00,325.60) scale(0.9000,1)" text-anchor="middle" font-family='"Liberation Sans", sans-serif' font-weight="bold" font-size="12.8" fill="#000" >250</text>
<text transform="translate(436.97,325.60) scale(0.9000,1)" text-anchor="middle" font-family='"Liberation Sans", sans-serif' font-weight="bold" font-size="12.8" fill="#000" >300</text>
<text transform="translate(470.94,325.60) scale(0.9000,1)" text-anchor="middle" font-family='"Liberation Sans", sans-serif' font-weight="bold" font-size="12.8" fill="#000" >350</text>
<text transform="translate(504.91,325.60) scale(0.9000,1)" text-anchor="middle" font-family='"Liberation Sans", sans-serif' font-weight="bold" font-size="12.8" fill="#000" >400</text>
<text transform="translate(538.88,325.60) scale(0.9000,1)" text-anchor="middle" font-family='"Liberation Sans", sans-serif' font-weight="bold" font-size="12.8" fill="#000" >450</text>
<text transform="translate(572.85,325.60) scale(0.9000,1)" text-anchor="middle" font-family='"Liberation Sans", sans-serif' font-weight="bold" font-size="12.8" fill="#000" >500</text>
<text transform="translate(606.82,325.60) scale(0.9000,1)" text-anchor="middle" font-family='"Liberation Sans", sans-serif' font-weight="bold" font-size="12.8" fill="#000" >550</text>
<text transform="translate(640.79,325.60) scale(0.9000,1)" text-anchor="middle" font-family='"Liberation Sans", sans-serif' font-weight="bold" font-size="12.8" fill="#000" >600</text>
<text transform="translate(674.76,325.60) scale(0.9000,1)" text-anchor="middle" font-family='"Liberation Sans", sans-serif' font-weight="bold" font-size="12.8" fill="#000" >650</text>
<text transform="translate(473.99,346.69) scale(0.9154,1)" font-family='"Liberation Sans", sans-serif' font-weight="bold" font-size="15.162" fill="#000" >Wavelength (nm)</text>
<text transform="translate(371.46,242.34) rotate(-90) scale(1.2031,1)" font-family='"Liberation Sans", sans-serif' font-weight="bold" font-size="14.161" fill="#000" >PL Intensity (a.u.)</text>
<path d="M415.80,241.35 L415.95,242.90 L416.11,244.44 L416.29,245.96 L416.47,247.47 L416.67,248.97 L416.89,250.45 L417.11,251.93 L417.34,253.39 L417.59,254.85 L417.84,256.30 L418.11,257.75 L418.38,259.19 L418.66,260.63 L418.96,262.06 L419.26,263.50 L419.56,264.93 L419.88,266.36 L420.21,267.80 L420.55,269.24 L420.91,270.68 L421.29,272.13 L421.68,273.58 L422.10,275.04 L422.54,276.51 L423.00,277.99 L423.49,279.48 L424.01,280.98 L424.56,282.49 L425.15,284.00 L425.81,285.44 L426.57,286.75 L427.46,287.85 L428.51,288.69 L429.74,289.18 L431.10,289.30 L432.44,289.01 L433.65,288.31 L434.67,287.27 L435.46,286.00 L436.10,284.59 L436.65,283.14 L437.15,281.68 L437.60,280.22 L438.01,278.76 L438.38,277.29 L438.71,275.82 L439.02,274.35 L439.29,272.88 L439.55,271.40 L439.78,269.93 L440.00,268.45 L440.21,266.97 L440.42,265.49 L440.62,264.01 L440.83,262.53 L441.03,261.05 L441.23,259.57 L441.43,258.09 L441.63,256.61 L441.83,255.13 L442.04,253.65 L442.24,252.17 L442.44,250.68 L442.63,249.20 L442.83,247.72 L443.03,246.23 L443.23,244.75 L443.43,243.27 L443.62,241.78 L443.82,240.30 L444.02,238.81 L444.21,237.33 L444.40,235.84 L444.60,234.36 L444.79,232.87 L444.98,231.39 L445.17,229.90 L445.37,228.41 L445.56,226.93 L445.74,225.44 L445.93,223.95 L446.12,222.47 L446.31,220.98 L446.49,219.50 L446.68,218.01 L446.86,216.52 L447.05,215.03 L447.23,213.55 L447.41,212.06 L447.59,210.57 L447.77,209.09 L447.95,207.60 L448.13,206.11 L448.30,204.63 L448.48,203.14 L448.66,201.65 L448.83,200.17 L449.00,198.68 L449.17,197.19 L449.34,195.70 L449.51,194.22 L449.68,192.73 L449.85,191.24 L450.02,189.76 L450.18,188.27 L450.35,186.78 L450.51,185.30 L450.67,183.81 L450.84,182.33 L451.00,180.84 L451.16,179.35 L451.32,177.87 L451.48,176.38 L451.64,174.89 L451.80,173.41 L451.96,171.92 L452.12,170.43 L452.28,168.95 L452.44,167.46 L452.60,165.97 L452.75,164.49 L452.91,163.00 L453.07,161.51 L453.23,160.03 L453.39,158.54 L453.54,157.05 L453.70,155.56 L453.86,154.08 L454.02,152.59 L454.17,151.10 L454.33,149.62 L454.49,148.13 L454.65,146.64 L454.81,145.15 L454.97,143.67 L455.13,142.18 L455.29,140.69 L455.45,139.20 L455.61,137.71 L455.77,136.23 L455.93,134.74 L456.09,133.25 L456.26,131.76 L456.42,130.27 L456.59,128.78 L456.75,127.30 L456.92,125.81 L457.08,124.32 L457.25,122.83 L457.42,121.34 L457.59,119.85 L457.76,118.36 L457.93,116.87 L458.11,115.38 L458.28,113.89 L458.46,112.40 L458.63,110.91 L458.81,109.42 L458.99,107.93 L459.17,106.43 L459.35,104.94 L459.53,103.45 L459.72,101.96 L459.90,100.47 L460.09,98.98 L460.28,97.48 L460.47,95.99 L460.66,94.50 L460.85,93.01 L461.05,91.51 L461.25,90.02 L461.45,88.54 L461.65,87.05 L461.85,85.57 L462.05,84.10 L462.26,82.63 L462.47,81.17 L462.68,79.72 L462.89,78.28 L463.10,76.85 L463.32,75.42 L463.54,73.99 L463.76,72.55 L463.98,71.10 L464.21,69.63 L464.44,68.12 L464.67,66.58 L464.90,65.00 L465.16,63.39 L465.46,61.79 L465.84,60.21 L466.32,58.68 L466.94,57.24 L467.71,55.91 L468.66,54.72 L469.75,53.75 L470.85,53.17 L471.85,53.11 L472.69,53.62 L473.39,54.57 L474.01,55.84 L474.57,57.29 L475.10,58.80 L475.65,60.30 L476.20,61.77 L476.75,63.22 L477.30,64.65 L477.86,66.06 L478.42,67.47 L478.97,68.86 L479.53,70.24 L480.09,71.61 L480.65,72.98 L481.20,74.35 L481.75,75.71 L482.30,77.08 L482.85,78.45 L483.38,79.83 L483.92,81.21 L484.44,82.60 L484.97,83.99 L485.49,85.39 L486.00,86.79 L486.51,88.19 L487.02,89.60 L487.53,91.02 L488.03,92.43 L488.53,93.85 L489.03,95.27 L489.53,96.69 L490.03,98.12 L490.52,99.54 L491.02,100.97 L491.51,102.39 L492.01,103.82 L492.50,105.25 L493.00,106.67 L493.49,108.10 L493.99,109.52 L494.49,110.95 L494.99,112.37 L495.50,113.79 L496.00,115.20 L496.51,116.62 L497.02,118.03 L497.54,119.44 L498.05,120.84 L498.57,122.25 L499.10,123.65 L499.62,125.05 L500.15,126.44 L500.68,127.84 L501.22,129.23 L501.75,130.62 L502.29,132.01 L502.83,133.39 L503.38,134.78 L503.93,136.16 L504.48,137.54 L505.03,138.92 L505.58,140.30 L506.14,141.67 L506.70,143.05 L507.26,144.42 L507.83,145.79 L508.40,147.16 L508.97,148.53 L509.54,149.90 L510.12,151.27 L510.70,152.64 L511.28,154.00 L511.86,155.37 L512.45,156.73 L513.03,158.09 L513.63,159.46 L514.22,160.82 L514.81,162.18 L515.41,163.55 L516.01,164.91 L516.62,166.27 L517.22,167.63 L517.83,168.99 L518.44,170.35 L519.05,171.72 L519.67,173.08 L520.28,174.44 L520.90,175.80 L521.53,177.16 L522.15,178.53 L522.78,179.89 L523.40,181.26 L524.04,182.62 L524.67,183.99 L525.30,185.35 L525.94,186.72 L526.58,188.09 L527.22,189.46 L527.87,190.83 L528.51,192.20 L529.16,193.58 L529.81,194.95 L530.47,196.33 L531.12,197.70 L531.78,199.08 L532.44,200.46 L533.10,201.84 L533.76,203.22 L534.43,204.60 L535.09,205.98 L535.76,207.35 L536.43,208.73 L537.09,210.09 L537.76,211.46 L538.43,212.82 L539.10,214.17 L539.78,215.52 L540.45,216.86 L541.12,218.19 L541.79,219.52 L542.46,220.83 L543.13,222.14 L543.80,223.44 L544.48,224.73 L545.16,226.00 L545.85,227.26 L546.56,228.51 L547.29,229.75 L548.03,230.98 L548.80,232.18 L549.60,233.38 L550.43,234.56 L551.30,235.72 L552.20,236.86 L553.15,237.99 L554.13,239.10 L555.16,240.19 L556.22,241.26 L557.31,242.30 L558.43,243.33 L559.59,244.34 L560.77,245.32 L561.97,246.28 L563.20,247.21 L564.45,248.12 L565.72,249.00 L567.00,249.86 L568.30,250.69 L569.61,251.49 L570.93,252.26 L572.25,253.00 L573.59,253.71 L574.93,254.40 L576.27,255.05 L577.62,255.69 L578.98,256.30 L580.34,256.88 L581.70,257.45 L583.08,258.00 L584.45,258.53 L585.83,259.05 L587.22,259.56 L588.61,260.05 L590.01,260.54 L591.41,261.02 L592.81,261.49 L594.22,261.96 L595.63,262.42 L597.05,262.89 L598.47,263.35 L599.90,263.82 L601.33,264.28 L602.76,264.75 L604.20,265.20 L605.64,265.66 L607.08,266.10 L608.53,266.53 L609.98,266.95 L611.43,267.35 L612.89,267.74 L614.35,268.10 L615.81,268.45 L617.27,268.77 L618.74,269.07 L620.21,269.33 L621.68,269.57 L623.16,269.79 L624.64,269.97 L626.12,270.14 L627.60,270.27 L629.08,270.39 L630.57,270.49 L632.05,270.57 L633.54,270.63 L635.03,270.67 L636.53,270.70 L638.02,270.72 L639.51,270.73 L641.01,270.72 L642.51,270.71 L644.00,270.70 L645.50,270.67 L647.00,270.65 L648.50,270.62 L650.00,270.59 L651.51,270.56 L653.01,270.53 L654.51,270.51 L656.01,270.49 L657.51,270.48 L659.02,270.47 L660.52,270.48 L662.02,270.50 L663.52,270.53 L665.02,270.57 L666.53,270.63 L668.03,270.71 L669.53,270.80 L671.02,270.92 L672.52,271.06 L674.02,271.22" fill="none" stroke="#000000" stroke-width="2.3" stroke-linejoin="round" stroke-linecap="butt" />
<path d="M416.63,252.26 L416.80,253.83 L417.00,255.37 L417.24,256.89 L417.51,258.37 L417.81,259.84 L418.13,261.28 L418.48,262.71 L418.84,264.13 L419.22,265.54 L419.62,266.95 L420.02,268.35 L420.44,269.75 L420.86,271.16 L421.28,272.58 L421.71,274.01 L422.13,275.45 L422.55,276.91 L422.96,278.39 L423.36,279.89 L423.75,281.42 L424.15,282.96 L424.60,284.47 L425.15,285.92 L425.83,287.27 L426.69,288.48 L427.77,289.52 L429.10,290.35 L430.56,290.85 L431.91,290.84 L433.06,290.32 L434.03,289.41 L434.86,288.23 L435.55,286.90 L436.15,285.51 L436.66,284.09 L437.13,282.64 L437.58,281.19 L438.00,279.74 L438.42,278.28 L438.82,276.82 L439.21,275.36 L439.58,273.89 L439.95,272.43 L440.30,270.96 L440.64,269.49 L440.97,268.02 L441.29,266.55 L441.60,265.07 L441.90,263.60 L442.19,262.12 L442.48,260.64 L442.75,259.16 L443.02,257.68 L443.28,256.20 L443.53,254.71 L443.78,253.23 L444.02,251.74 L444.26,250.26 L444.49,248.77 L444.71,247.28 L444.93,245.80 L445.15,244.31 L445.37,242.82 L445.58,241.33 L445.79,239.85 L445.99,238.36 L446.20,236.87 L446.40,235.38 L446.61,233.90 L446.81,232.41 L447.01,230.92 L447.22,229.44 L447.42,227.95 L447.63,226.47 L447.83,224.98 L448.04,223.50 L448.24,222.01 L448.44,220.53 L448.65,219.05 L448.85,217.57 L449.06,216.08 L449.27,214.60 L449.47,213.12 L449.68,211.64 L449.88,210.16 L450.09,208.68 L450.29,207.20 L450.50,205.72 L450.71,204.24 L450.91,202.76 L451.12,201.28 L451.33,199.80 L451.54,198.32 L451.74,196.84 L451.95,195.36 L452.16,193.88 L452.37,192.40 L452.57,190.93 L452.78,189.45 L452.99,187.97 L453.20,186.49 L453.41,185.01 L453.62,183.53 L453.83,182.05 L454.04,180.57 L454.25,179.10 L454.45,177.62 L454.66,176.14 L454.87,174.66 L455.08,173.18 L455.29,171.70 L455.50,170.22 L455.72,168.74 L455.93,167.26 L456.14,165.78 L456.35,164.30 L456.56,162.82 L456.77,161.34 L456.98,159.86 L457.19,158.37 L457.41,156.89 L457.62,155.41 L457.83,153.93 L458.04,152.44 L458.25,150.96 L458.47,149.48 L458.68,147.99 L458.89,146.51 L459.11,145.02 L459.32,143.54 L459.53,142.05 L459.75,140.56 L459.96,139.07 L460.17,137.59 L460.39,136.10 L460.60,134.61 L460.82,133.12 L461.03,131.63 L461.25,130.14 L461.46,128.65 L461.68,127.15 L461.90,125.66 L462.12,124.17 L462.35,122.67 L462.58,121.18 L462.82,119.68 L463.06,118.19 L463.32,116.69 L463.58,115.19 L463.86,113.69 L464.15,112.19 L464.45,110.69 L464.76,109.19 L465.09,107.69 L465.44,106.18 L465.80,104.68 L466.19,103.17 L466.59,101.67 L467.02,100.18 L467.50,98.74 L468.04,97.36 L468.66,96.07 L469.37,94.91 L470.19,93.89 L471.13,93.04 L472.20,92.44 L473.43,92.25 L474.75,92.50 L476.05,93.12 L477.24,94.06 L478.25,95.23 L479.13,96.58 L479.91,98.02 L480.62,99.50 L481.28,100.97 L481.91,102.43 L482.49,103.87 L483.05,105.30 L483.59,106.71 L484.10,108.12 L484.60,109.51 L485.09,110.90 L485.57,112.29 L486.05,113.66 L486.53,115.04 L487.02,116.41 L487.52,117.78 L488.04,119.16 L488.58,120.53 L489.13,121.90 L489.69,123.28 L490.27,124.65 L490.86,126.03 L491.46,127.41 L492.07,128.78 L492.70,130.16 L493.32,131.53 L493.96,132.91 L494.60,134.28 L495.25,135.65 L495.90,137.03 L496.55,138.40 L497.20,139.77 L497.86,141.14 L498.51,142.51 L499.16,143.87 L499.81,145.24 L500.46,146.60 L501.10,147.96 L501.74,149.32 L502.38,150.68 L503.01,152.03 L503.64,153.39 L504.28,154.74 L504.91,156.09 L505.54,157.44 L506.17,158.79 L506.80,160.14 L507.44,161.49 L508.07,162.83 L508.71,164.17 L509.35,165.51 L509.99,166.86 L510.63,168.19 L511.28,169.53 L511.93,170.87 L512.59,172.21 L513.25,173.54 L513.91,174.87 L514.58,176.21 L515.26,177.54 L515.94,178.87 L516.63,180.20 L517.32,181.53 L518.03,182.86 L518.74,184.18 L519.46,185.51 L520.19,186.84 L520.92,188.16 L521.66,189.49 L522.41,190.81 L523.15,192.13 L523.91,193.45 L524.66,194.78 L525.41,196.10 L526.16,197.42 L526.91,198.74 L527.66,200.06 L528.41,201.38 L529.15,202.70 L529.88,204.01 L530.61,205.33 L531.32,206.65 L532.03,207.97 L532.73,209.29 L533.42,210.60 L534.10,211.92 L534.76,213.24 L535.41,214.56 L536.06,215.87 L536.70,217.19 L537.34,218.51 L537.99,219.82 L538.64,221.14 L539.31,222.46 L539.99,223.78 L540.69,225.09 L541.40,226.41 L542.14,227.72 L542.90,229.03 L543.69,230.33 L544.49,231.63 L545.31,232.91 L546.16,234.18 L547.03,235.43 L547.92,236.66 L548.84,237.88 L549.78,239.07 L550.74,240.24 L551.73,241.39 L552.74,242.50 L553.77,243.59 L554.83,244.64 L555.91,245.66 L557.02,246.65 L558.16,247.60 L559.31,248.52 L560.49,249.40 L561.69,250.26 L562.91,251.09 L564.15,251.90 L565.40,252.67 L566.67,253.43 L567.96,254.16 L569.27,254.87 L570.58,255.56 L571.91,256.23 L573.26,256.89 L574.61,257.53 L575.97,258.16 L577.35,258.78 L578.73,259.38 L580.11,259.98 L581.51,260.56 L582.91,261.15 L584.31,261.72 L585.71,262.29 L587.12,262.86 L588.53,263.43 L589.95,263.99 L591.36,264.54 L592.78,265.09 L594.20,265.63 L595.62,266.16 L597.05,266.68 L598.48,267.19 L599.91,267.70 L601.34,268.18 L602.78,268.66 L604.21,269.12 L605.65,269.57 L607.10,270.00 L608.54,270.42 L609.99,270.82 L611.44,271.20 L612.89,271.56 L614.34,271.90 L615.79,272.22 L617.25,272.52 L618.71,272.80 L620.17,273.06 L621.64,273.29 L623.10,273.50 L624.57,273.69 L626.04,273.85 L627.51,274.00 L628.99,274.14 L630.46,274.25 L631.94,274.35 L633.42,274.44 L634.90,274.51 L636.39,274.57 L637.87,274.63 L639.36,274.67 L640.85,274.71 L642.34,274.73 L643.83,274.76 L645.33,274.78 L646.82,274.80 L648.32,274.81 L649.82,274.83 L651.32,274.85 L652.83,274.87 L654.33,274.89 L655.84,274.92 L657.35,274.96 L658.86,275.00 L660.37,275.05 L661.88,275.11 L663.39,275.18 L664.91,275.27 L666.43,275.36 L667.94,275.48 L669.46,275.61 L670.99,275.75 L672.51,275.92 L674.03,276.10" fill="none" stroke="#ff0000" stroke-width="2.4" stroke-linejoin="round" stroke-linecap="butt" />
<path d="M416.78,254.97 L417.09,256.54 L417.40,258.07 L417.70,259.58 L418.01,261.06 L418.32,262.52 L418.64,263.97 L418.95,265.40 L419.28,266.81 L419.61,268.22 L419.94,269.63 L420.29,271.03 L420.65,272.43 L421.02,273.84 L421.40,275.25 L421.79,276.67 L422.20,278.11 L422.63,279.56 L423.08,281.02 L423.54,282.51 L424.02,284.03 L424.53,285.57 L425.07,287.12 L425.67,288.62 L426.38,290.00 L427.23,291.22 L428.25,292.20 L429.48,292.90 L430.82,293.24 L432.07,293.18 L433.15,292.74 L434.10,291.98 L434.92,290.97 L435.64,289.75 L436.29,288.38 L436.89,286.91 L437.45,285.41 L437.99,283.92 L438.51,282.42 L439.01,280.93 L439.50,279.44 L439.97,277.95 L440.42,276.47 L440.86,274.99 L441.28,273.51 L441.68,272.03 L442.08,270.55 L442.45,269.08 L442.82,267.60 L443.17,266.13 L443.51,264.66 L443.84,263.19 L444.15,261.73 L444.46,260.26 L444.76,258.80 L445.04,257.33 L445.32,255.87 L445.59,254.40 L445.85,252.94 L446.10,251.48 L446.35,250.02 L446.59,248.56 L446.82,247.09 L447.05,245.63 L447.27,244.17 L447.49,242.71 L447.71,241.24 L447.92,239.78 L448.13,238.31 L448.34,236.85 L448.55,235.38 L448.75,233.91 L448.96,232.44 L449.16,230.97 L449.36,229.50 L449.57,228.02 L449.77,226.55 L449.98,225.07 L450.18,223.59 L450.39,222.12 L450.59,220.64 L450.79,219.16 L451.00,217.67 L451.20,216.19 L451.41,214.71 L451.61,213.22 L451.82,211.74 L452.02,210.25 L452.23,208.76 L452.43,207.28 L452.64,205.79 L452.84,204.30 L453.05,202.81 L453.25,201.32 L453.46,199.83 L453.66,198.34 L453.87,196.85 L454.08,195.35 L454.28,193.86 L454.49,192.37 L454.70,190.88 L454.91,189.38 L455.11,187.89 L455.32,186.40 L455.53,184.91 L455.74,183.41 L455.95,181.92 L456.16,180.43 L456.37,178.93 L456.58,177.44 L456.79,175.95 L457.01,174.46 L457.22,172.96 L457.43,171.47 L457.64,169.98 L457.86,168.49 L458.07,167.00 L458.29,165.51 L458.50,164.02 L458.72,162.53 L458.93,161.05 L459.15,159.56 L459.37,158.07 L459.59,156.59 L459.81,155.10 L460.02,153.62 L460.24,152.14 L460.47,150.65 L460.69,149.17 L460.91,147.69 L461.13,146.22 L461.36,144.74 L461.58,143.26 L461.81,141.79 L462.03,140.31 L462.26,138.84 L462.49,137.37 L462.71,135.90 L462.94,134.43 L463.17,132.96 L463.40,131.50 L463.64,130.04 L463.87,128.57 L464.11,127.11 L464.37,125.65 L464.64,124.19 L464.95,122.72 L465.29,121.25 L465.66,119.77 L466.09,118.29 L466.58,116.81 L467.17,115.35 L467.90,113.97 L468.81,112.68 L469.92,111.56 L471.16,110.78 L472.44,110.57 L473.69,111.02 L474.80,111.81 L475.77,112.77 L476.60,113.87 L477.33,115.08 L477.97,116.40 L478.54,117.80 L479.07,119.25 L479.57,120.75 L480.07,122.26 L480.58,123.76 L481.13,125.24 L481.73,126.68 L482.41,128.06 L483.14,129.38 L483.93,130.66 L484.75,131.90 L485.60,133.13 L486.46,134.33 L487.33,135.53 L488.18,136.74 L489.01,137.95 L489.81,139.19 L490.56,140.46 L491.29,141.75 L491.98,143.06 L492.64,144.39 L493.28,145.74 L493.90,147.10 L494.50,148.47 L495.09,149.86 L495.66,151.25 L496.23,152.65 L496.79,154.05 L497.35,155.46 L497.91,156.87 L498.47,158.27 L499.05,159.67 L499.63,161.06 L500.24,162.45 L500.85,163.83 L501.48,165.19 L502.13,166.55 L502.79,167.90 L503.47,169.24 L504.16,170.58 L504.86,171.91 L505.57,173.23 L506.29,174.54 L507.02,175.85 L507.76,177.16 L508.50,178.46 L509.26,179.76 L510.02,181.05 L510.78,182.34 L511.55,183.62 L512.32,184.91 L513.10,186.19 L513.87,187.47 L514.65,188.75 L515.43,190.03 L516.21,191.31 L516.99,192.59 L517.76,193.87 L518.53,195.15 L519.30,196.43 L520.07,197.71 L520.82,199.00 L521.58,200.29 L522.32,201.58 L523.06,202.88 L523.80,204.18 L524.53,205.48 L525.26,206.78 L525.99,208.08 L526.71,209.39 L527.43,210.70 L528.16,212.01 L528.88,213.31 L529.60,214.62 L530.32,215.93 L531.05,217.24 L531.78,218.55 L532.51,219.86 L533.24,221.17 L533.98,222.48 L534.72,223.78 L535.47,225.09 L536.23,226.39 L536.99,227.69 L537.77,228.99 L538.55,230.29 L539.34,231.58 L540.13,232.87 L540.94,234.15 L541.77,235.43 L542.60,236.70 L543.45,237.95 L544.31,239.19 L545.19,240.42 L546.08,241.63 L546.99,242.82 L547.92,244.00 L548.87,245.15 L549.84,246.28 L550.82,247.38 L551.83,248.46 L552.87,249.51 L553.92,250.53 L555.00,251.52 L556.10,252.47 L557.23,253.39 L558.39,254.27 L559.58,255.12 L560.79,255.92 L562.03,256.70 L563.29,257.43 L564.57,258.14 L565.88,258.82 L567.21,259.46 L568.55,260.09 L569.91,260.69 L571.29,261.27 L572.68,261.84 L574.08,262.38 L575.50,262.92 L576.92,263.44 L578.35,263.96 L579.79,264.46 L581.23,264.97 L582.67,265.47 L584.12,265.97 L585.56,266.47 L587.01,266.97 L588.45,267.48 L589.89,267.99 L591.34,268.50 L592.78,269.00 L594.22,269.50 L595.66,270.00 L597.11,270.50 L598.55,270.98 L599.99,271.47 L601.43,271.94 L602.87,272.40 L604.32,272.85 L605.76,273.29 L607.20,273.72 L608.65,274.13 L610.09,274.52 L611.54,274.90 L612.98,275.27 L614.43,275.61 L615.88,275.93 L617.32,276.24 L618.77,276.52 L620.23,276.78 L621.68,277.01 L623.13,277.22 L624.59,277.41 L626.04,277.57 L627.50,277.72 L628.96,277.85 L630.43,277.96 L631.89,278.06 L633.36,278.14 L634.83,278.21 L636.30,278.27 L637.77,278.31 L639.25,278.34 L640.72,278.37 L642.21,278.39 L643.69,278.40 L645.17,278.41 L646.66,278.41 L648.16,278.41 L649.65,278.40 L651.15,278.40 L652.65,278.40 L654.16,278.40 L655.66,278.40 L657.17,278.41 L658.69,278.42 L660.21,278.44 L661.73,278.47 L663.26,278.50 L664.79,278.55 L666.32,278.60 L667.86,278.67 L669.40,278.76 L670.95,278.86 L672.50,278.97 L674.06,279.10" fill="none" stroke="#0000ff" stroke-width="2.7" stroke-linejoin="round" stroke-linecap="butt" />
<rect x="572.10" y="68.70" width="84.60" height="50.40" fill="none" stroke="#6a6a6a" stroke-width="1.2"/>
<line x1="576.30" y1="78.10" x2="600.60" y2="78.10" stroke="#000" stroke-width="2.8" stroke-linecap="round"/>
<line x1="576.30" y1="94.50" x2="600.60" y2="94.50" stroke="#ff0000" stroke-width="2.8" stroke-linecap="round"/>
<line x1="576.30" y1="111.70" x2="600.60" y2="111.70" stroke="#0000ff" stroke-width="2.8" stroke-linecap="round"/>
<text transform="translate(604.47,82.18) scale(0.8720,1)" font-family='"Liberation Sans", sans-serif' font-weight="bold" font-size="12.006" fill="#000" >CuS</text>
<text transform="translate(604.86,98.68) scale(0.8776,1)" font-family='"Liberation Sans", sans-serif' font-weight="bold" font-size="12.147" fill="#000" >GO-CuS</text>
<text transform="translate(604.07,115.48) scale(0.9060,1)" font-family='"Liberation Sans", sans-serif' font-weight="bold" font-size="12.006" fill="#000" >BGO-CuS</text></g></svg>
</body></html>
